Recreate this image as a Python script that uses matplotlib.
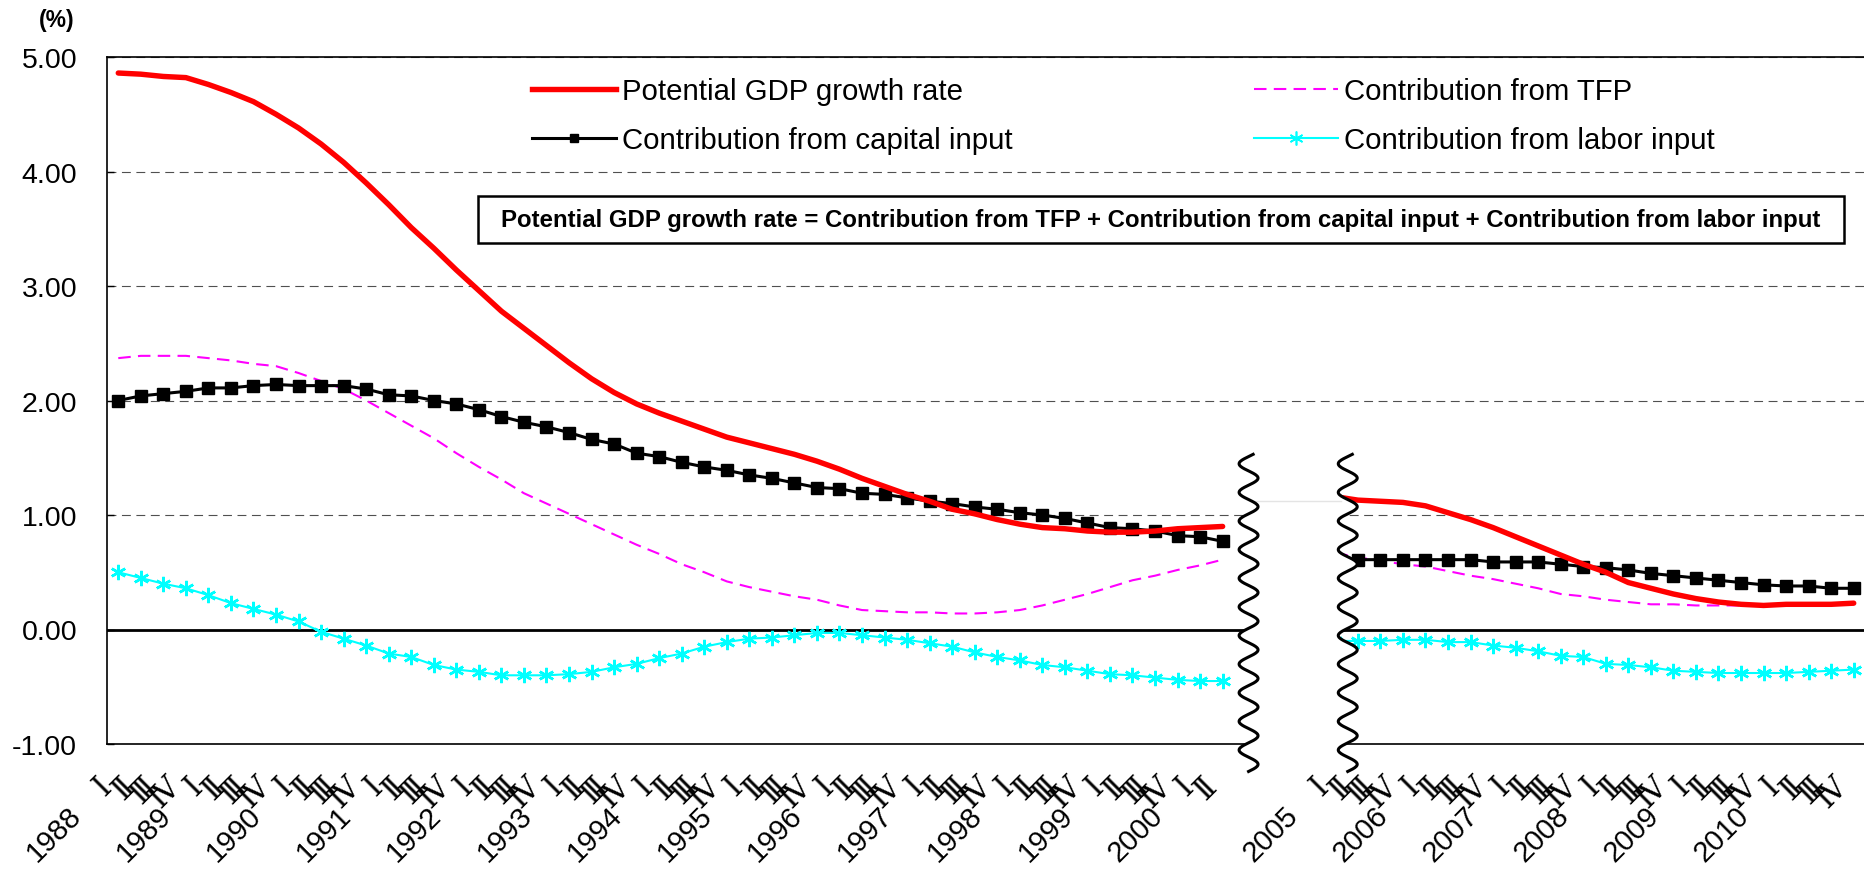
import numpy as np
import matplotlib
matplotlib.use('Agg')
import matplotlib.pyplot as plt
from matplotlib.patches import Rectangle

# Quarterly contributions, 1988 I - 2000 II (%)
gdp_a = [4.86, 4.85, 4.83, 4.82, 4.76, 4.69, 4.61, 4.50, 4.38, 4.24,
         4.08, 3.90, 3.71, 3.51, 3.33, 3.14, 2.96, 2.78, 2.63, 2.48,
         2.33, 2.19, 2.07, 1.97, 1.89, 1.82, 1.75, 1.68, 1.63, 1.58,
         1.53, 1.47, 1.40, 1.32, 1.25, 1.18, 1.12, 1.05, 1.01, 0.96,
         0.92, 0.89, 0.88, 0.86, 0.85, 0.85, 0.86, 0.88, 0.89, 0.90]
cap_a = [2.00, 2.04, 2.06, 2.08, 2.11, 2.11, 2.13, 2.14, 2.13, 2.13,
         2.13, 2.10, 2.05, 2.04, 2.00, 1.97, 1.92, 1.86, 1.81, 1.77,
         1.72, 1.66, 1.62, 1.54, 1.51, 1.46, 1.42, 1.39, 1.35, 1.32,
         1.28, 1.24, 1.23, 1.19, 1.18, 1.15, 1.12, 1.10, 1.07, 1.05,
         1.02, 1.00, 0.97, 0.93, 0.89, 0.88, 0.86, 0.82, 0.81, 0.77]
tfp_a = [2.37, 2.39, 2.39, 2.39, 2.37, 2.35, 2.32, 2.30, 2.24, 2.17,
         2.10, 2.00, 1.89, 1.78, 1.67, 1.54, 1.42, 1.31, 1.19, 1.10,
         1.01, 0.92, 0.83, 0.74, 0.66, 0.57, 0.50, 0.42, 0.37, 0.33,
         0.29, 0.26, 0.21, 0.17, 0.16, 0.15, 0.15, 0.14, 0.14, 0.15,
         0.17, 0.21, 0.26, 0.31, 0.37, 0.43, 0.47, 0.52, 0.56, 0.61]
lab_a = [0.50, 0.45, 0.40, 0.36, 0.30, 0.23, 0.18, 0.13, 0.07, -0.02,
         -0.08, -0.14, -0.21, -0.24, -0.31, -0.35, -0.37, -0.40, -0.40, -0.40,
         -0.39, -0.37, -0.33, -0.30, -0.25, -0.21, -0.15, -0.11, -0.08, -0.07,
         -0.05, -0.03, -0.03, -0.05, -0.07, -0.09, -0.12, -0.15, -0.20, -0.24,
         -0.27, -0.31, -0.33, -0.36, -0.39, -0.40, -0.42, -0.44, -0.45, -0.45]

# 2005 I - 2010 IV (%)
gdp_b = [1.16, 1.13, 1.12, 1.11, 1.08, 1.02, 0.96, 0.89, 0.81, 0.73, 0.65, 0.57,
         0.50, 0.41, 0.36, 0.31, 0.27, 0.24, 0.22, 0.21, 0.22, 0.22, 0.22, 0.23]
cap_b = [0.62, 0.61, 0.61, 0.61, 0.61, 0.61, 0.61, 0.59, 0.59, 0.59, 0.57, 0.55,
         0.54, 0.52, 0.49, 0.47, 0.45, 0.43, 0.41, 0.39, 0.38, 0.38, 0.36, 0.36]
tfp_b = [0.67, 0.63, 0.60, 0.57, 0.55, 0.51, 0.47, 0.44, 0.40, 0.36, 0.31, 0.29,
         0.26, 0.24, 0.22, 0.22, 0.21, 0.21, 0.21, 0.22, 0.22, 0.22, 0.22, 0.22]
lab_b = [-0.10, -0.10, -0.10, -0.09, -0.09, -0.11, -0.11, -0.14, -0.16, -0.19, -0.23, -0.24,
         -0.30, -0.31, -0.33, -0.36, -0.37, -0.38, -0.38, -0.38, -0.38, -0.37, -0.36, -0.35]

years_a = list(range(1988, 2001))
years_b = list(range(2005, 2011))
quarters = ['Ⅰ', 'Ⅱ', 'Ⅲ', 'Ⅳ']
gap = 4  # hidden quarters between the two periods

names = ['Potential GDP growth rate', 'Contribution from capital input',
         'Contribution from TFP', 'Contribution from labor input']
formula = ('Potential GDP growth rate = Contribution from TFP + '
           'Contribution from capital input + Contribution from labor input')

x_a = np.arange(len(gdp_a))
x_b = np.arange(len(gdp_b)) + len(gdp_a) + gap
q_pos = list(x_a) + list(x_b)
q_labels = [quarters[i % 4] for i in range(len(gdp_a))] + [quarters[i % 4] for i in range(len(gdp_b))]
year_pos = list(x_a[::4]) + list(x_b[::4])
year_labels = [str(y) for y in years_a + years_b]

plt.rcParams['font.family'] = ['Liberation Sans', 'DejaVu Sans']

W, H = 1865, 870
fig = plt.figure(figsize=(W / 100, H / 100), dpi=100)
ax = fig.add_axes([107 / W, 1 - 745 / H, (W - 107) / W, (745 - 58) / H])

ax.set_ylim(-1, 5)
ax.set_xlim(-0.5, x_b[-1] + 0.5)
ax.set_yticks(np.arange(-1, 5.01, 1))
ax.yaxis.set_major_formatter(matplotlib.ticker.FormatStrFormatter('%.2f'))
ax.grid(axis='y', color='#505050', lw=0.8, dashes=(8, 5))
ax.set_axisbelow(True)
ax.axhline(0, color='black', lw=2.0, zorder=2)

for xs, g, c, t, l in [(x_a, gdp_a, cap_a, tfp_a, lab_a), (x_b, gdp_b, cap_b, tfp_b, lab_b)]:
    ax.plot(xs, t, color='#FF00FF', lw=1.5, dashes=(6, 3.5), zorder=3)
    ax.plot(xs, l, color='#00FFFF', lw=1.5, marker=(6, 2, 0), ms=11, mew=1.8, zorder=3)
    ax.plot(xs, c, color='black', lw=2.2, marker='s', ms=8.5, zorder=4)
    ax.plot(xs, g, color='#FF0000', lw=3.9, solid_capstyle='round', zorder=4)

# legend entries
h_gdp, = ax.plot([], [], color='#FF0000', lw=3.9)
h_cap, = ax.plot([], [], color='black', lw=2.2, marker='s', ms=6)
h_tfp, = ax.plot([], [], color='#FF00FF', lw=1.5, dashes=(6, 3.5))
h_lab, = ax.plot([], [], color='#00FFFF', lw=1.5, marker=(6, 2, 0), ms=10, mew=1.2)
ax.legend([h_gdp, h_cap, h_tfp, h_lab], names, ncol=2, frameon=False,
          loc='upper left', bbox_to_anchor=(532 / W, 1 - 78 / H),
          bbox_transform=fig.transFigure, fontsize=21.2, handlelength=2.85,
          handletextpad=0.2, columnspacing=8.2, labelspacing=0.72,
          borderpad=0, borderaxespad=0)

# axis break between 2000 and 2005
yy = np.linspace(-1.24, 1.53, 500)
left_br = x_a[-1] + 1.15
right_br = x_b[0] + 0.55
wl = left_br + 0.42 * np.sin(2 * np.pi * (yy - yy[0]) / 0.25)
wr = right_br + 0.42 * np.sin(2 * np.pi * (yy - yy[0]) / 0.25)
ax.fill(np.r_[wl, wr[::-1]], np.r_[yy, yy[::-1]], color='white', zorder=6, clip_on=False)
ax.plot([left_br + 0.3, right_br - 0.3], [gdp_b[0] - 0.04] * 2, color='#e4e4e4', lw=1, zorder=6.5)
ax.plot(wl, yy, color='black', lw=2.2, zorder=7, clip_on=False)
ax.plot(wr, yy, color='black', lw=2.2, zorder=7, clip_on=False)

# quarter labels, with year labels one row further down
ax.set_xticks(q_pos)
ax.set_xticklabels([])
ax.tick_params(axis='x', length=0)
for xp, ql in zip(q_pos, q_labels):
    ax.annotate(ql, xy=(xp, 0), xycoords=('data', 'axes fraction'),
                xytext=(-8, -27), textcoords='offset points', fontsize=22,
                family='DejaVu Serif', rotation=45, rotation_mode='anchor',
                ha='right', va='center', annotation_clip=False, zorder=8)
for xp, yl in zip(year_pos, year_labels):
    ax.annotate(yl, xy=(xp, 0), xycoords=('data', 'axes fraction'),
                xytext=(-30, -48), textcoords='offset points', fontsize=21,
                rotation=45, rotation_mode='anchor', ha='right', va='center',
                annotation_clip=False, zorder=8)

ax.tick_params(axis='y', direction='in', length=5, labelsize=20.5, pad=21.5, width=1)
for s in ['left', 'bottom', 'top']:
    ax.spines[s].set_linewidth(1.2)
ax.spines['right'].set_visible(False)

fig.text(57 / W, 1 - 20 / H, '(%)', ha='center', va='center', fontsize=16.5, weight='bold')

fig.patches.append(Rectangle((478 / W, 1 - 244 / H), (1844 - 478) / W, 47 / H,
                             transform=fig.transFigure, facecolor='white',
                             edgecolor='black', lw=1.8, zorder=5))
fig.text(1161 / W, 1 - 221 / H, formula, ha='center', va='center',
         fontsize=17.3, weight='bold', zorder=6)

fig.savefig('out.png', dpi=100)
